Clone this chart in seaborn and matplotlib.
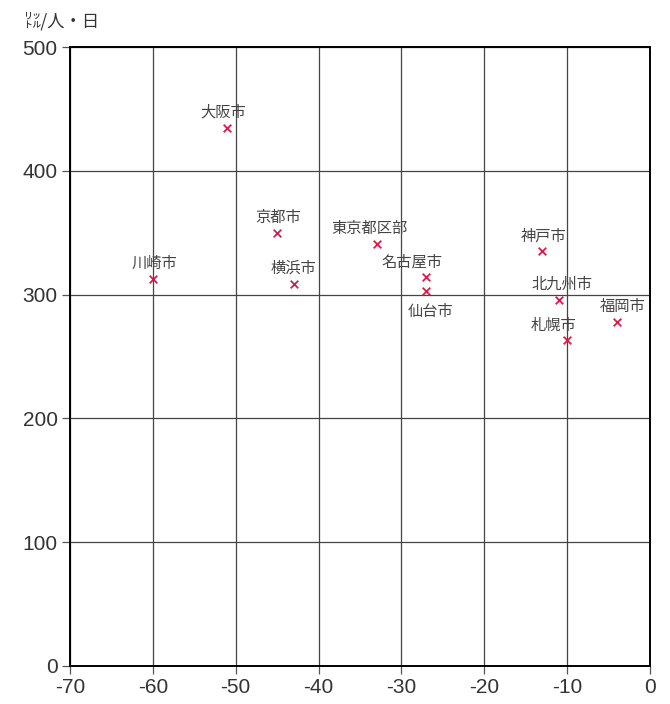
import seaborn as sns
import matplotlib.pyplot as plt
import pandas as pd

# 都市別データ（横軸: 変化量, 縦軸: ㍑/人・日）
cities = ["川崎市", "大阪市", "京都市", "横浜市", "東京都区部", "名古屋市",
          "仙台市", "神戸市", "北九州市", "札幌市", "福岡市"]
x_vals = [-60, -51, -45, -43, -33, -27, -27, -13, -11, -10, -4]
y_vals = [313, 435, 350, 309, 341, 314, 303, 335, 296, 263, 278]

# ラベルの位置ずらし（ポイント単位）
label_dx = [1, -3, 1, 0, -5, -10, 3, 1, 2, -10, 4]
label_dy = [11, 11, 11, 11, 11, 11, -15, 11, 11, 11, 11]

df = pd.DataFrame({"city": cities, "x": x_vals, "y": y_vals})

sns.set_style("white")
plt.rcParams['font.family'] = ['Noto Sans CJK JP', 'DejaVu Sans']
plt.rcParams['axes.unicode_minus'] = False

fig = plt.figure(figsize=(6.7, 7.04), dpi=100)
ax = fig.add_axes([0.1045, 0.054, 0.8655, 0.879])

sns.scatterplot(data=df, x="x", y="y", marker="x", color="#d0204a",
                s=30, linewidth=1.3, ax=ax, zorder=3)

for i, row in df.iterrows():
    ax.annotate(row["city"], (row["x"], row["y"]),
                xytext=(label_dx[i], label_dy[i]), textcoords="offset points",
                ha="center", va="center", fontsize=11, color="#444444")

ax.set_xlim(-70, 0)
ax.set_ylim(0, 500)
ax.set_xticks(range(-70, 1, 10))
ax.set_yticks(range(0, 501, 100))
ax.grid(True, color="#444444", linewidth=0.9)
for sp in ax.spines.values():
    sp.set_color("black")
    sp.set_linewidth(1.4)
ax.tick_params(direction="out", length=6, width=0.9, color="#555555",
               labelsize=15, labelcolor="#333333", left=True, bottom=True,
               pad=3)
for lab in ax.get_xticklabels() + ax.get_yticklabels():
    lab.set_family(["Liberation Sans", "DejaVu Sans"])
ax.set_xlabel("")
ax.set_ylabel("")

fig.text(0.035, 0.97, "㍑/人・日", fontsize=12.5, color="#333333",
         ha="left", va="center")

fig.savefig("out.png", dpi=100)
